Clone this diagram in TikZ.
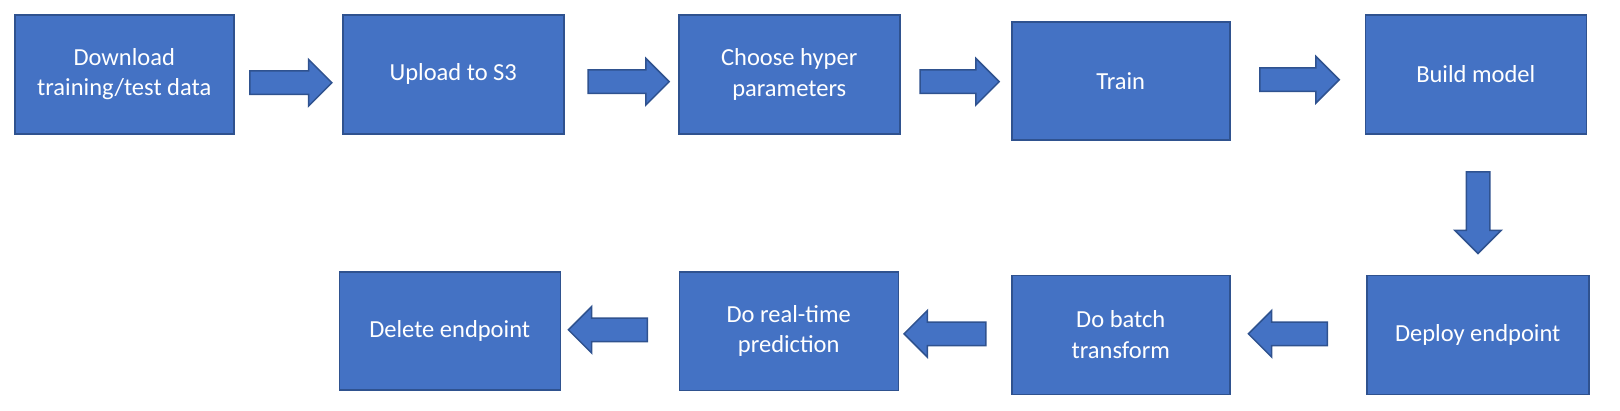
\documentclass[tikz,border=0pt]{standalone}
\usepackage{fontspec}
\setmainfont{Carlito}
\usetikzlibrary{shapes.arrows}
\definecolor{boxfill}{HTML}{4472C4}
\definecolor{boxline}{HTML}{2F528F}
\tikzset{
  stepbox/.style={draw=boxline, fill=boxfill, line width=1.5pt, anchor=north west,
    text=white, align=center, inner sep=0pt,
    font=\fontsize{24.5}{30.5}\selectfont},
  blockarrow/.style={shape=single arrow, draw=boxline, fill=boxfill, line width=1.5pt,
    inner sep=11pt, minimum height=80pt, single arrow head extend=11.5pt,
    single arrow tip angle=90},
}
\begin{document}
\begin{tikzpicture}[x=1pt,y=-1pt]
\useasboundingbox (0,0) rectangle (1620,410);
% top row
\node[stepbox, minimum width=219pt, minimum height=119pt] (b1) at (14,14) {Download\\training/test data};
\node[stepbox, minimum width=221pt, minimum height=119pt] (b2) at (342,14) {Upload to S3};
\node[stepbox, minimum width=221pt, minimum height=119pt] (b3) at (678,14) {Choose hyper\\parameters};
\node[stepbox, minimum width=218pt, minimum height=118pt] (b4) at (1011,21) {Train};
\node[stepbox, minimum width=221pt, minimum height=119pt] (b5) at (1364.5,14) {Build model};
% bottom row
\node[stepbox, minimum width=222pt, minimum height=119pt] (b9) at (1366,274.5) {Deploy endpoint};
\node[stepbox, minimum width=218pt, minimum height=119pt] (b8) at (1011,274.5) {Do batch\\transform};
\node[stepbox, minimum width=219pt, minimum height=118.5pt] (b7) at (678.5,271) {Do real-time\\prediction};
\node[stepbox, minimum width=221pt, minimum height=118pt] (b6) at (338.5,271) {Delete endpoint};
% block arrows
\node[blockarrow, minimum height=82pt] (a1) at (285,82.7) {};
\node[blockarrow, minimum height=81pt] (a2) at (622.8,81.7) {};
\node[blockarrow, minimum height=79pt] (a3) at (953.8,81.7) {};
\node[blockarrow, minimum height=79.3pt] (a4) at (1293.7,79.7) {};
\node[blockarrow, minimum height=81.7pt, shape border rotate=270] (a5) at (1478,206.8) {};
\node[blockarrow, minimum height=79pt, shape border rotate=180] (a6) at (1293.8,333.8) {};
\node[blockarrow, minimum height=81.7pt, shape border rotate=180] (a7) at (950.8,333.8) {};
\node[blockarrow, minimum height=79pt, shape border rotate=180] (a8) at (613.8,329.8) {};
\end{tikzpicture}
\end{document}
